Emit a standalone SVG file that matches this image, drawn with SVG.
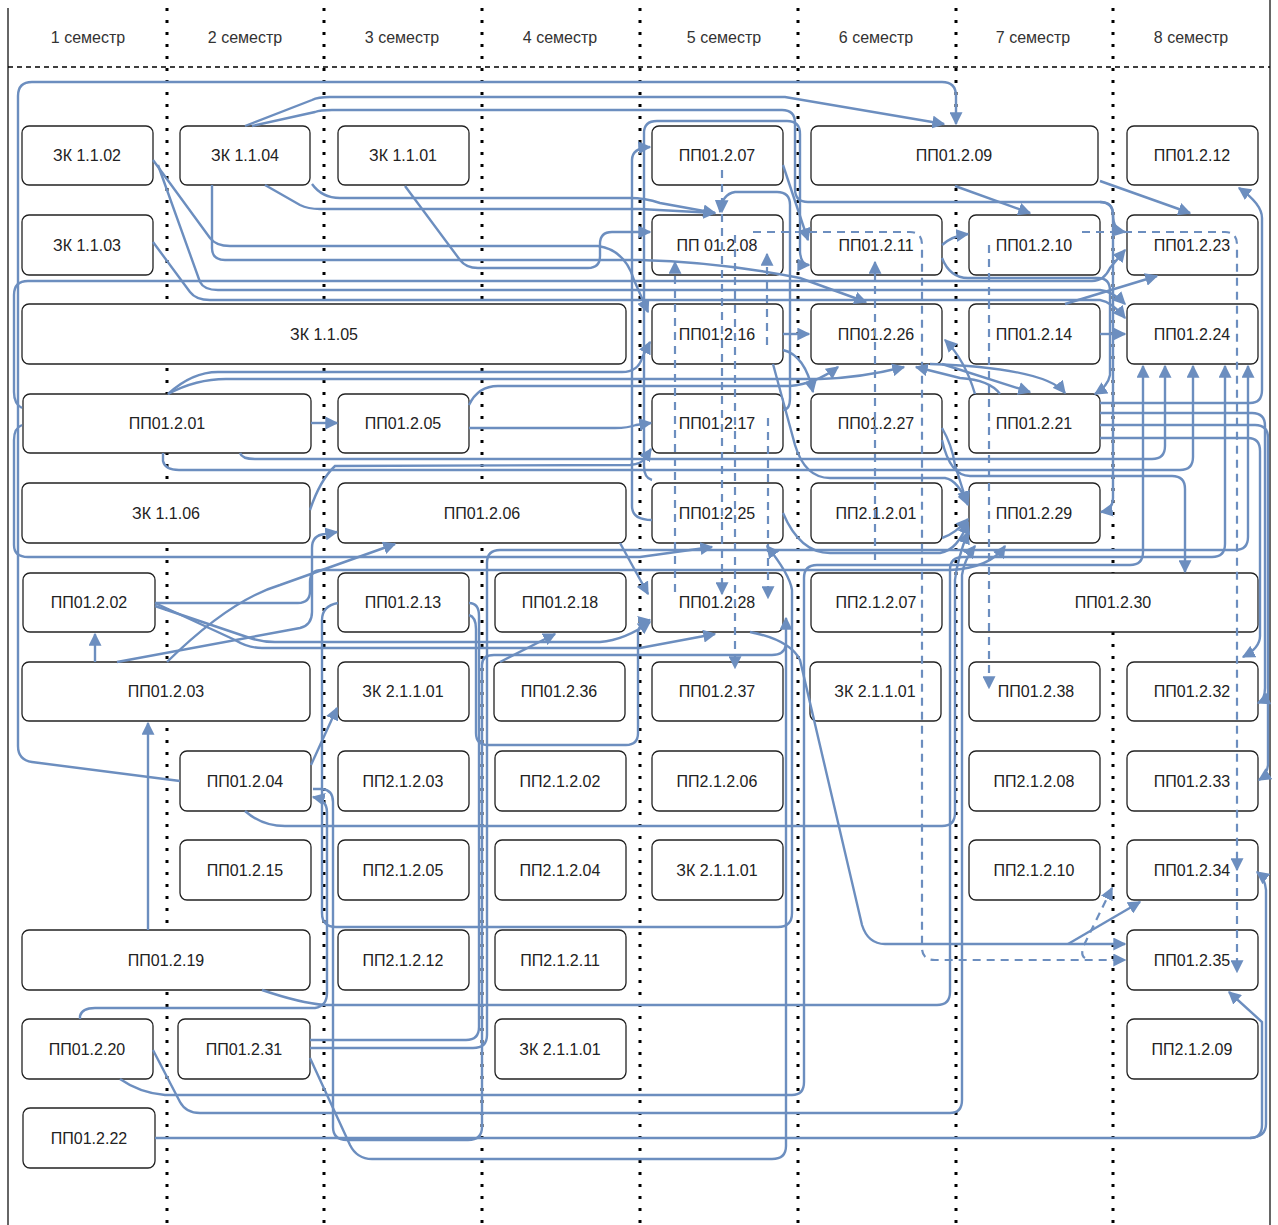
<svg xmlns="http://www.w3.org/2000/svg" width="1278" height="1225" viewBox="0 0 1278 1225">
<style>
.bg{fill:#fff}
.frame{stroke:#333;stroke-width:1.5;fill:none}
.div{stroke:#000;stroke-width:3;stroke-dasharray:3 9;fill:none}
.hd{stroke:#000;stroke-width:1.5;stroke-dasharray:5 4;fill:none}
.ht{font-family:"Liberation Sans",Arial,sans-serif;font-size:16px;fill:#333;text-anchor:middle}
.nd rect{fill:#fff;stroke:#222;stroke-width:1.3}
.nd text{font-family:"Liberation Sans",Arial,sans-serif;font-size:16px;fill:#222;text-anchor:middle}
#connectors path{fill:none;stroke:#6c8ebf;stroke-width:2.4;marker-end:url(#a)}
#connectors path.n{marker-end:none}
#connectors path.d{stroke-dasharray:8 6;stroke-width:2.2}
</style>
<defs>
<marker id="a" viewBox="0 0 10 10" refX="9" refY="5" markerWidth="13" markerHeight="13" markerUnits="userSpaceOnUse" orient="auto"><path d="M0,0 L10,5 L0,10 z" fill="#6c8ebf"/></marker>
</defs>
<rect class="bg" x="0" y="0" width="1278" height="1225"/>
<g id="frame">
<line class="frame" x1="8" y1="8" x2="8" y2="1225"/>
<line class="frame" x1="1270" y1="0" x2="1270" y2="1225"/>
<line class="hd" x1="8" y1="67" x2="1270" y2="67"/>
<line class="div" x1="167" y1="8" x2="167" y2="1225"/>
<line class="div" x1="324" y1="8" x2="324" y2="1225"/>
<line class="div" x1="482" y1="8" x2="482" y2="1225"/>
<line class="div" x1="640" y1="8" x2="640" y2="1225"/>
<line class="div" x1="798" y1="8" x2="798" y2="1225"/>
<line class="div" x1="956" y1="8" x2="956" y2="1225"/>
<line class="div" x1="1113" y1="8" x2="1113" y2="1225"/>
</g>
<g id="header">
<text class="ht" x="88" y="43">1 семестр</text>
<text class="ht" x="245" y="43">2 семестр</text>
<text class="ht" x="402" y="43">3 семестр</text>
<text class="ht" x="560" y="43">4 семестр</text>
<text class="ht" x="724" y="43">5 семестр</text>
<text class="ht" x="876" y="43">6 семестр</text>
<text class="ht" x="1033" y="43">7 семестр</text>
<text class="ht" x="1191" y="43">8 семестр</text>
</g>
<g id="nodes">
<g class="nd" id="zk1102"><rect x="22" y="126" width="131" height="59" rx="7"/><text x="87" y="161">ЗК 1.1.02</text></g>
<g class="nd" id="zk1104"><rect x="180" y="126" width="130" height="59" rx="7"/><text x="245" y="161">ЗК 1.1.04</text></g>
<g class="nd" id="zk1101"><rect x="338" y="126" width="131" height="59" rx="7"/><text x="403" y="161">ЗК 1.1.01</text></g>
<g class="nd" id="pp0207"><rect x="652" y="126" width="131" height="59" rx="7"/><text x="717" y="161">ПП01.2.07</text></g>
<g class="nd" id="pp0209"><rect x="811" y="126" width="287" height="59" rx="7"/><text x="954" y="161">ПП01.2.09</text></g>
<g class="nd" id="pp0212"><rect x="1127" y="126" width="131" height="59" rx="7"/><text x="1192" y="161">ПП01.2.12</text></g>

<g class="nd" id="zk1103"><rect x="22" y="215" width="131" height="60" rx="7"/><text x="87" y="251">ЗК 1.1.03</text></g>
<g class="nd" id="pp0208"><rect x="652" y="215" width="131" height="60" rx="7"/><text x="717" y="251">ПП 01.2.08</text></g>
<g class="nd" id="pp0211"><rect x="811" y="215" width="131" height="60" rx="7"/><text x="876" y="251">ПП01.2.11</text></g>
<g class="nd" id="pp0210"><rect x="969" y="215" width="131" height="60" rx="7"/><text x="1034" y="251">ПП01.2.10</text></g>
<g class="nd" id="pp0223"><rect x="1127" y="215" width="131" height="60" rx="7"/><text x="1192" y="251">ПП01.2.23</text></g>

<g class="nd" id="zk1105"><rect x="22" y="304" width="604" height="60" rx="7"/><text x="324" y="340">ЗК 1.1.05</text></g>
<g class="nd" id="pp0216"><rect x="652" y="304" width="131" height="60" rx="7"/><text x="717" y="340">ПП01.2.16</text></g>
<g class="nd" id="pp0226"><rect x="811" y="304" width="131" height="60" rx="7"/><text x="876" y="340">ПП01.2.26</text></g>
<g class="nd" id="pp0214"><rect x="969" y="304" width="131" height="60" rx="7"/><text x="1034" y="340">ПП01.2.14</text></g>
<g class="nd" id="pp0224"><rect x="1127" y="304" width="131" height="60" rx="7"/><text x="1192" y="340">ПП01.2.24</text></g>

<g class="nd" id="pp0201"><rect x="23" y="394" width="288" height="59" rx="7"/><text x="167" y="429">ПП01.2.01</text></g>
<g class="nd" id="pp0205"><rect x="338" y="394" width="131" height="59" rx="7"/><text x="403" y="429">ПП01.2.05</text></g>
<g class="nd" id="pp0217"><rect x="652" y="394" width="131" height="59" rx="7"/><text x="717" y="429">ПП01.2.17</text></g>
<g class="nd" id="pp0227"><rect x="811" y="394" width="131" height="59" rx="7"/><text x="876" y="429">ПП01.2.27</text></g>
<g class="nd" id="pp0221"><rect x="969" y="394" width="131" height="59" rx="7"/><text x="1034" y="429">ПП01.2.21</text></g>

<g class="nd" id="zk1106"><rect x="22" y="483" width="288" height="60" rx="7"/><text x="166" y="519">ЗК 1.1.06</text></g>
<g class="nd" id="pp0206"><rect x="338" y="483" width="288" height="60" rx="7"/><text x="482" y="519">ПП01.2.06</text></g>
<g class="nd" id="pp0225"><rect x="652" y="483" width="131" height="60" rx="7"/><text x="717" y="519">ПП01.2.25</text></g>
<g class="nd" id="pp21201"><rect x="811" y="483" width="131" height="60" rx="7"/><text x="876" y="519">ПП2.1.2.01</text></g>
<g class="nd" id="pp0229"><rect x="969" y="483" width="131" height="60" rx="7"/><text x="1034" y="519">ПП01.2.29</text></g>

<g class="nd" id="pp0202"><rect x="23" y="573" width="132" height="59" rx="7"/><text x="89" y="608">ПП01.2.02</text></g>
<g class="nd" id="pp0213"><rect x="338" y="573" width="131" height="59" rx="7"/><text x="403" y="608">ПП01.2.13</text></g>
<g class="nd" id="pp0218"><rect x="495" y="573" width="131" height="59" rx="7"/><text x="560" y="608">ПП01.2.18</text></g>
<g class="nd" id="pp0228"><rect x="652" y="573" width="131" height="59" rx="7"/><text x="717" y="608">ПП01.2.28</text></g>
<g class="nd" id="pp21207"><rect x="811" y="573" width="131" height="59" rx="7"/><text x="876" y="608">ПП2.1.2.07</text></g>
<g class="nd" id="pp0230"><rect x="969" y="573" width="289" height="59" rx="7"/><text x="1113" y="608">ПП01.2.30</text></g>

<g class="nd" id="pp0203"><rect x="22" y="662" width="288" height="59" rx="7"/><text x="166" y="697">ПП01.2.03</text></g>
<g class="nd" id="zk21101a"><rect x="338" y="662" width="131" height="59" rx="7"/><text x="403" y="697">ЗК 2.1.1.01</text></g>
<g class="nd" id="pp0236"><rect x="494" y="662" width="131" height="59" rx="7"/><text x="559" y="697">ПП01.2.36</text></g>
<g class="nd" id="pp0237"><rect x="652" y="662" width="131" height="59" rx="7"/><text x="717" y="697">ПП01.2.37</text></g>
<g class="nd" id="zk21101b"><rect x="810" y="662" width="131" height="59" rx="7"/><text x="875" y="697">ЗК 2.1.1.01</text></g>
<g class="nd" id="pp0238"><rect x="969" y="662" width="131" height="59" rx="7"/><text x="1036" y="697">ПП01.2.38</text></g>
<g class="nd" id="pp0232"><rect x="1127" y="662" width="131" height="59" rx="7"/><text x="1192" y="697">ПП01.2.32</text></g>

<g class="nd" id="pp0204"><rect x="180" y="751" width="131" height="60" rx="7"/><text x="245" y="787">ПП01.2.04</text></g>
<g class="nd" id="pp21203"><rect x="338" y="751" width="131" height="60" rx="7"/><text x="403" y="787">ПП2.1.2.03</text></g>
<g class="nd" id="pp21202"><rect x="495" y="751" width="131" height="60" rx="7"/><text x="560" y="787">ПП2.1.2.02</text></g>
<g class="nd" id="pp21206"><rect x="652" y="751" width="131" height="60" rx="7"/><text x="717" y="787">ПП2.1.2.06</text></g>
<g class="nd" id="pp21208"><rect x="969" y="751" width="131" height="60" rx="7"/><text x="1034" y="787">ПП2.1.2.08</text></g>
<g class="nd" id="pp0233"><rect x="1127" y="751" width="131" height="60" rx="7"/><text x="1192" y="787">ПП01.2.33</text></g>

<g class="nd" id="pp0215"><rect x="180" y="840" width="131" height="60" rx="7"/><text x="245" y="876">ПП01.2.15</text></g>
<g class="nd" id="pp21205"><rect x="338" y="840" width="131" height="60" rx="7"/><text x="403" y="876">ПП2.1.2.05</text></g>
<g class="nd" id="pp21204"><rect x="495" y="840" width="131" height="60" rx="7"/><text x="560" y="876">ПП2.1.2.04</text></g>
<g class="nd" id="zk21101c"><rect x="652" y="840" width="131" height="60" rx="7"/><text x="717" y="876">ЗК 2.1.1.01</text></g>
<g class="nd" id="pp21210"><rect x="969" y="840" width="131" height="60" rx="7"/><text x="1034" y="876">ПП2.1.2.10</text></g>
<g class="nd" id="pp0234"><rect x="1127" y="840" width="131" height="60" rx="7"/><text x="1192" y="876">ПП01.2.34</text></g>

<g class="nd" id="pp0219"><rect x="22" y="930" width="288" height="60" rx="7"/><text x="166" y="966">ПП01.2.19</text></g>
<g class="nd" id="pp21212"><rect x="338" y="930" width="131" height="60" rx="7"/><text x="403" y="966">ПП2.1.2.12</text></g>
<g class="nd" id="pp21211"><rect x="495" y="930" width="131" height="60" rx="7"/><text x="560" y="966">ПП2.1.2.11</text></g>
<g class="nd" id="pp0235"><rect x="1127" y="930" width="131" height="60" rx="7"/><text x="1192" y="966">ПП01.2.35</text></g>

<g class="nd" id="pp0220"><rect x="22" y="1019" width="131" height="60" rx="7"/><text x="87" y="1055">ПП01.2.20</text></g>
<g class="nd" id="pp0231"><rect x="178" y="1019" width="132" height="60" rx="7"/><text x="244" y="1055">ПП01.2.31</text></g>
<g class="nd" id="zk21101d"><rect x="495" y="1019" width="131" height="60" rx="7"/><text x="560" y="1055">ЗК 2.1.1.01</text></g>
<g class="nd" id="pp21209"><rect x="1127" y="1019" width="131" height="60" rx="7"/><text x="1192" y="1055">ПП2.1.2.09</text></g>

<g class="nd" id="pp0222"><rect x="23" y="1108" width="132" height="60" rx="7"/><text x="89" y="1144">ПП01.2.22</text></g>
</g>
<g id="connectors">
<path d="M180,781 L32,762 Q18,760 18,746 L18,96 Q18,82 32,82 L942,82 Q956,82 956,96 L956,124"/>
<path d="M245,126 L312,100 Q318,97 330,97 L785,97 L944,124"/>
<path d="M252,126 L315,112 Q320,110 332,110 L782,110 Q795,110 795,123 L795,189 Q795,202 808,202 L1100,202 Q1113,202 1113,215 L1113,498 Q1113,510 1101,512"/>
<path d="M1100,202 Q1113,202 1113,215 Q1113,230 1125,232"/>
<path d="M955,186 L1030,213"/>
<path d="M1100,181 L1190,213"/>
<path d="M405,186 L460,260 Q466,268 478,268 L588,268 Q600,268 600,256 L600,244 Q600,232 612,232 L650,232"/>
<path d="M153,160 L210,238 Q216,246 230,246 L598,246 Q625,250 634,280 L648,312"/>
<path d="M212,185 L212,248 Q212,260 225,260 L640,260 Q720,262 800,278 L866,302"/>
<path d="M265,185 L300,205 Q308,209 320,209 L640,209 L715,213"/>
<path d="M312,184 Q322,198 340,198 L630,198 Q645,198 660,203 L715,213"/>
<path d="M158,165 L200,282 Q204,290 218,290 L1100,290 Q1112,291 1125,304"/>
<path d="M153,242 L190,292 Q196,300 210,300 L1100,300 Q1112,302 1125,318"/>
<path d="M22,408 Q14,404 14,392 L14,295 Q14,281 28,281 L1092,281 Q1104,281 1110,268 L1125,250"/>
<path d="M1065,304 L1157,276"/>
<path d="M1100,334 L1125,334"/>
<path d="M783,334 L809,334"/>
<path d="M942,245 Q952,236 968,234"/>
<path d="M942,258 Q950,278 968,278 L1098,278 Q1110,278 1110,291 L1110,375 Q1108,386 1095,394"/>
<path d="M783,165 L808,240"/>
<path d="M783,410 Q790,410 790,398 L790,205 Q790,192 777,192 L735,192 Q722,194 720,212"/>
<path d="M652,480 Q644,478 644,466 L644,133 Q644,121 657,121 L787,121 Q800,121 800,134 L800,252 Q801,265 809,265"/>
<path d="M652,520 Q632,520 632,506 L632,160 Q632,148 650,147"/>
<path d="M168,394 Q192,372 218,372 L622,372 Q638,372 642,358 L650,342"/>
<path d="M168,394 Q196,379 226,379 L820,379 Q860,378 904,367"/>
<path d="M469,405 Q478,386 498,386 L790,386 Q815,384 838,367"/>
<path d="M311,423 L337,423"/>
<path d="M469,428 L615,428 Q628,428 636,425 L651,423"/>
<path d="M240,453 Q242,459 255,459 L1152,459 Q1165,459 1165,446 L1165,366"/>
<path d="M163,453 L163,461 Q165,470 179,470 L1180,470 Q1193,470 1193,457 L1193,366"/>
<path d="M310,510 Q320,480 335,466 L630,465 Q642,464 645,458 L651,449"/>
<path d="M22,425 Q14,428 14,440 L14,545 Q14,557 28,557 L640,557 L712,547"/>
<path d="M117,662 L300,628 Q312,625 312,612 L312,548 Q312,535 325,534 L337,532"/>
<path d="M167,662 Q230,600 280,585 L395,544"/>
<path d="M155,603 L235,640 Q248,648 262,648 L640,648 L715,634"/>
<path d="M155,606 L250,638 Q262,642 275,642 L600,642 Q625,640 650,622"/>
<path d="M95,662 L95,634"/>
<path d="M148,930 L148,723"/>
<path d="M311,765 L337,708"/>
<path d="M80,1019 L80,1016 Q82,1008 95,1008 L315,1008 Q327,1006 327,993 L327,812 Q327,800 313,797"/>
<path class="n" d="M313,789 L322,789 Q333,790 333,802 L333,1127 Q333,1140 347,1140 L468,1140 Q482,1140 482,1127 L482,665 Q482,655 494,655 L772,655 Q784,655 786,645"/>
<path d="M262,990 Q300,1003 325,1005 L937,1005 Q950,1005 950,992 L950,570 Q950,557 963,557 L1212,557 Q1225,557 1225,544 L1225,366"/>
<path d="M153,1050 L180,1102 Q186,1113 200,1113 L950,1113 Q962,1113 962,1100 L962,575 Q964,560 975,546"/>
<path d="M120,1079 Q140,1093 165,1095 L792,1095 Q804,1095 804,1082 L804,578 Q804,565 817,565 L1130,565 Q1143,565 1143,552 L1143,366"/>
<path d="M310,1048 L473,1048 Q487,1048 487,1035 L487,563 Q487,550 500,550 L1235,550 Q1248,550 1248,537 L1248,366"/>
<path class="n" d="M310,1040 L466,1040 Q479,1040 479,1027 L479,616 Q479,603 469,603"/>
<path d="M469,615 Q476,617 476,629 L476,733 Q476,745 488,745 L626,745 Q638,745 638,733 L638,632 Q640,622 650,620"/>
<path d="M338,603 Q322,606 322,620 L322,913 Q322,927 336,927 L778,927 Q792,927 792,913 L792,590 Q790,575 767,546"/>
<path d="M310,1058 L350,1145 Q357,1159 372,1159 L772,1159 Q786,1159 786,1146 L786,618"/>
<path d="M245,811 Q262,826 285,826 L942,826 Q955,826 955,813 L955,580 Q957,560 968,532"/>
<path d="M155,1138 L1250,1138 Q1262,1138 1262,1125 L1262,1022 L1229,992"/>
<path d="M1250,1138 Q1266,1137 1266,1124 L1266,890 Q1265,878 1257,872"/>
<path d="M750,632 Q790,640 800,660 L862,925 Q868,944 885,944 L1125,944"/>
<path d="M1068,944 L1140,902"/>
<path d="M1100,403 L1250,403 Q1262,403 1262,390 L1262,218 Q1262,204 1239,188"/>
<path d="M1100,413 L1252,413 Q1265,413 1265,426 L1265,688 Q1265,700 1258,703"/>
<path d="M1100,425 L1255,425 Q1268,425 1268,438 L1268,765 Q1267,775 1259,780"/>
<path d="M1100,438 L1248,438 Q1260,438 1260,451 L1260,636 Q1260,648 1243,657"/>
<path d="M942,440 Q950,476 970,476 L1172,476 Q1185,476 1185,489 L1185,572"/>
<path d="M773,364 L795,445 Q805,478 830,478 L945,478 Q958,480 968,505"/>
<path d="M783,513 Q800,553 830,553 L940,553 Q958,550 968,522"/>
<path d="M942,538 Q955,534 968,519"/>
<path d="M942,428 Q952,445 955,465 L967,503"/>
<path d="M942,364 L1030,392"/>
<path d="M930,364 Q1045,368 1065,393"/>
<path d="M1000,394 Q990,380 960,378 L916,367"/>
<path d="M975,394 Q965,360 945,340"/>
<path d="M783,350 Q805,355 813,392"/>
<path d="M620,543 L648,594"/>
<path d="M500,662 L555,634"/>
<path d="M155,603 L298,603 Q310,603 310,591 L310,582 Q310,570 322,570 L950,570 Q990,568 1005,546"/>
<path class="d" d="M722,170 L722,212"/>
<path class="d" d="M722,214 L722,594"/>
<path class="d" d="M675,592 L675,262"/>
<path class="d" d="M735,235 L735,668"/>
<path class="d" d="M767,345 L767,254"/>
<path class="d" d="M768,418 L768,598"/>
<path class="d" d="M753,232 L910,232 Q922,232 922,245 L922,948 Q922,960 935,960 L1125,960"/>
<path class="d" d="M875,560 L875,262"/>
<path class="d" d="M989,245 L989,688"/>
<path class="d" d="M1082,232 L1225,232 Q1237,232 1237,245 L1237,870"/>
<path class="d" d="M1237,874 L1237,972"/>
<path class="d" d="M1085,958 Q1080,955 1084,945 L1112,888"/>
</g>
</svg>
